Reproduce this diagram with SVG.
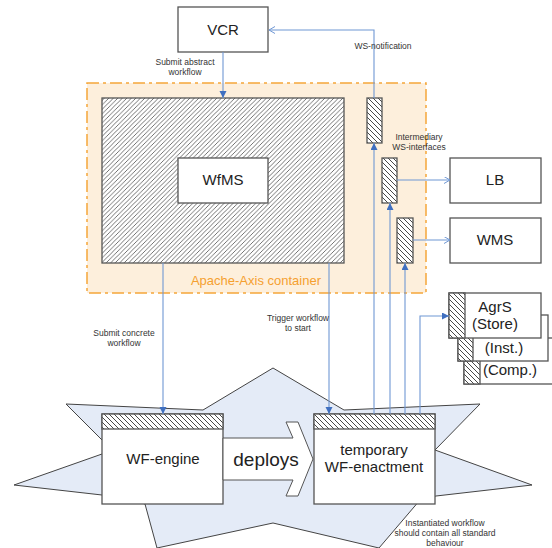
<svg xmlns="http://www.w3.org/2000/svg" width="552" height="548" viewBox="0 0 552 548">
<defs>
<style>
text{font-family:"Liberation Sans",Arial,sans-serif;}
.box{fill:#fff;stroke:#555;stroke-width:1.3;}
.big{font-size:15px;fill:#222;text-anchor:middle;}
.lbl{font-size:8.5px;fill:#333;text-anchor:middle;}
.con{fill:none;stroke:#6f97d4;stroke-width:1.1;}
.hatchR{fill:url(#hr);stroke:#555;stroke-width:1.3;}
.hatchL{fill:url(#hl);stroke:#555;stroke-width:1.3;}
</style>
<pattern id="hr" width="4.5" height="4.5" patternUnits="userSpaceOnUse">
<rect width="4.5" height="4.5" fill="#fff"/>
<path d="M-1,1 L1,-1 M0,4.5 L4.5,0 M3.5,5.5 L5.5,3.5" stroke="#444" stroke-width="0.75"/>
</pattern>
<pattern id="hl" width="5" height="5" patternUnits="userSpaceOnUse">
<rect width="5" height="5" fill="#fff"/>
<path d="M0,0 L5,5 M-1,4 L1,6 M4,-1 L6,1" stroke="#333" stroke-width="0.9"/>
</pattern>
<marker id="af" markerWidth="8" markerHeight="8" refX="7" refY="3.5" orient="auto" markerUnits="userSpaceOnUse">
<path d="M0,0 L7,3.5 L0,7 Z" fill="#3f6fc0"/>
</marker>
<marker id="ao" markerWidth="8" markerHeight="8" refX="6" refY="3.5" orient="auto" markerUnits="userSpaceOnUse">
<path d="M0,0 L6,3.5 L0,7" fill="none" stroke="#6f97d4" stroke-width="1"/>
</marker>
</defs>
<rect width="552" height="548" fill="#fff"/>
<g id="star">
<polygon points="66,404 203,410 273,368 344,410 480,404 435,450 532,485 436,496 420,500 379,548 273,523 157,548 145,504 120,497 102,495 14,485 102,454 110,447 102,440" fill="#e4ebf7" stroke="#444" stroke-width="1"/>
</g>
<g id="container">
<rect x="87" y="83" width="339" height="210" fill="#fdefdc" stroke="#f5a63a" stroke-width="1.5" stroke-dasharray="12,4,3,4"/>
<text x="256" y="285" font-size="13" fill="#f5a030" text-anchor="middle">Apache-Axis container</text>
</g>
<g id="wfms-area">
<rect x="102" y="98" width="242" height="165" class="hatchR"/>
</g>
<g id="wfms">
<rect x="178" y="158" width="90" height="45" class="box"/>
<text x="223" y="185" class="big">WfMS</text>
</g>
<g id="iface1"><rect x="367" y="98" width="15" height="45" class="hatchL"/></g>
<g id="iface2"><rect x="382" y="158" width="15" height="45" class="hatchL"/></g>
<g id="iface3"><rect x="397" y="218" width="16" height="45" class="hatchL"/></g>
<g id="vcr">
<rect x="178" y="7" width="90" height="45" class="box"/>
<text x="223" y="35" class="big">VCR</text>
</g>
<g id="lb">
<rect x="450" y="158" width="91" height="45" class="box"/>
<text x="495" y="185" class="big">LB</text>
</g>
<g id="wms">
<rect x="450" y="218" width="91" height="45" class="box"/>
<text x="495" y="245" class="big">WMS</text>
</g>
<g id="agrs-comp">
<rect x="464" y="338" width="100" height="46" class="box"/>
<rect x="464" y="338" width="16" height="46" class="hatchL"/>
<text x="510" y="375" class="big" font-size="14.5">(Comp.)</text>
</g>
<g id="agrs-inst">
<rect x="458" y="315" width="90" height="46" class="box"/>
<rect x="458" y="315" width="15" height="46" class="hatchL"/>
<text x="504" y="353" class="big" font-size="14.5">(Inst.)</text>
</g>
<g id="agrs-store">
<rect x="449" y="293" width="92" height="45" class="box"/>
<rect x="449" y="293" width="16" height="45" class="hatchL"/>
<text x="495" y="312" class="big" font-size="14.5">AgrS</text>
<text x="495" y="329" class="big" font-size="14.5">(Store)</text>
</g>
<g id="wf-engine">
<rect x="102" y="414" width="121" height="90" class="box"/>
<rect x="102" y="414" width="121" height="15" class="hatchL"/>
<text x="163" y="464" class="big">WF-engine</text>
</g>
<g id="wf-enactment">
<rect x="314" y="414" width="121" height="90" class="box"/>
<rect x="314" y="414" width="121" height="15" class="hatchL"/>
<text x="374" y="455" class="big">temporary</text>
<text x="374" y="472" class="big">WF-enactment</text>
</g>
<g id="deploys">
<polygon points="223,438 293,438 286,422 298,422 313,459 298,496 286,496 293,480 223,480" fill="#fff" stroke="#555" stroke-width="1"/>
<text x="266" y="466" font-size="19" fill="#222" text-anchor="middle">deploys</text>
</g>
<g id="connectors">
<path class="con" d="M223,52 V98" marker-end="url(#af)"/>
<path class="con" d="M374,98 V30 H269" marker-end="url(#ao)"/>
<path class="con" d="M374,414 V143" marker-end="url(#af)"/>
<path class="con" d="M390,414 V203" marker-end="url(#af)"/>
<path class="con" d="M405,414 V263" marker-end="url(#af)"/>
<path class="con" d="M420,414 V316 H449" marker-end="url(#af)"/>
<path class="con" d="M397,180 H450" marker-end="url(#ao)"/>
<path class="con" d="M413,240 H450" marker-end="url(#ao)"/>
<path class="con" d="M163,263 V414" marker-end="url(#af)"/>
<path class="con" d="M329,263 V414" marker-end="url(#af)"/>
</g>
<g id="labels">
<text x="185" y="65" class="lbl">Submit abstract</text>
<text x="185" y="75" class="lbl">workflow</text>
<text x="383" y="49" class="lbl" text-anchor="start">WS-notification</text>
<text x="419" y="140" class="lbl">Intermediary</text>
<text x="419" y="150" class="lbl">WS-interfaces</text>
<text x="124" y="336" class="lbl">Submit concrete</text>
<text x="124" y="346" class="lbl">workflow</text>
<text x="298" y="321" class="lbl">Trigger workflow</text>
<text x="298" y="331" class="lbl">to start</text>
<text x="445" y="526" class="lbl">Instantiated workflow</text>
<text x="445" y="536" class="lbl">should contain all standard</text>
<text x="445" y="546" class="lbl">behaviour</text>
</g>
</svg>
